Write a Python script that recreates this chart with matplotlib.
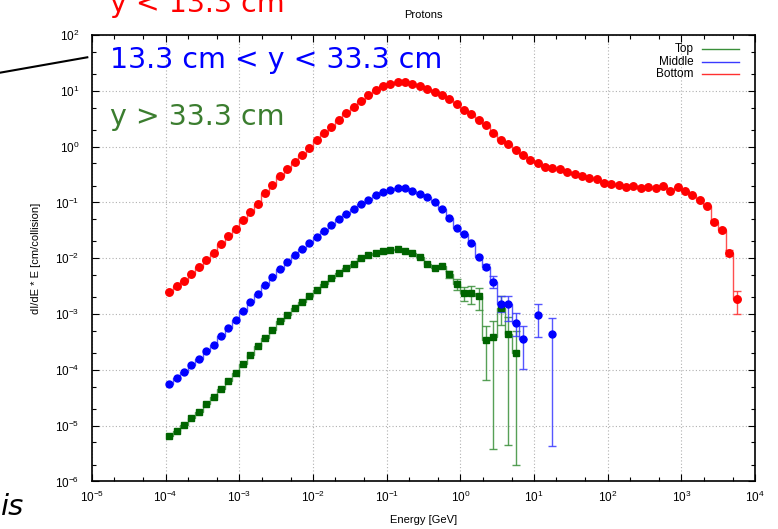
import numpy as np
import matplotlib.pyplot as plt
from matplotlib.lines import Line2D
from matplotlib.ticker import LogLocator, NullFormatter

plt.rcParams['font.family'] = ['Liberation Sans', 'DejaVu Sans']
plt.rcParams['mathtext.fontset'] = 'custom'
plt.rcParams['mathtext.rm'] = 'Liberation Sans'
plt.rcParams['mathtext.it'] = 'Liberation Sans:italic'
plt.rcParams['mathtext.bf'] = 'Liberation Sans:bold'

# 10 log bins per decade, first edge at 1e-4 GeV
bin_edges = np.logspace(-4, 3.8, 79)
bin_centres = np.sqrt(bin_edges[:-1] * bin_edges[1:])

# dI/dE * E per bin [cm/collision]; nan = empty bin
bottom_vals = [
    2.45e-3, 3.24e-3, 3.98e-3, 5.13e-3, 6.92e-3, 9.12e-3, 1.26e-2, 1.78e-2,
    2.45e-2, 3.39e-2, 4.90e-2, 6.76e-2, 9.55e-2, 0.148, 0.209, 0.295,
    0.398, 0.537, 0.708, 0.955, 1.29, 1.74, 2.29, 3.02,
    3.98, 5.13, 6.61, 8.32, 10.2, 12.3, 13.5, 14.1,
    14.1, 13.2, 12.0, 10.7, 9.55, 8.32, 7.24, 5.89,
    4.57, 3.80, 3.02, 2.40, 1.78, 1.32, 1.12, 0.871,
    0.708, 0.575, 0.513, 0.437, 0.407, 0.389, 0.347, 0.324,
    0.295, 0.269, 0.263, 0.219, 0.214, 0.204, 0.186, 0.195,
    0.182, 0.191, 0.182, 0.195, 0.158, 0.186, 0.158, 0.135,
    0.110, 0.0871, 0.0452, 0.0316, 0.0123, 0.00182,
]
middle_vals = [
    5.62e-5, 7.00e-5, 9.12e-5, 1.20e-4, 1.58e-4, 2.14e-4, 2.82e-4, 3.98e-4,
    5.50e-4, 7.94e-4, 1.12e-3, 1.66e-3, 2.29e-3, 3.31e-3, 4.68e-3, 6.31e-3,
    8.51e-3, 1.12e-2, 1.46e-2, 1.86e-2, 2.40e-2, 3.09e-2, 3.98e-2, 5.01e-2,
    6.31e-2, 7.76e-2, 9.55e-2, 0.112, 0.133, 0.153, 0.168, 0.178,
    0.178, 0.158, 0.141, 0.123, 0.100, 0.0759, 0.0525, 0.0351,
    0.0275, 0.0191, 0.0106, 7.08e-3, 3.80e-3, 1.48e-3, 1.48e-3, 6.92e-4,
    3.63e-4, np.nan, 9.55e-4, np.nan, 4.31e-4,
]
top_vals = [
    6.46e-6, 7.94e-6, 1.02e-5, 1.35e-5, 1.78e-5, 2.45e-5, 3.31e-5, 4.47e-5,
    6.31e-5, 8.91e-5, 1.29e-4, 1.82e-4, 2.63e-4, 3.72e-4, 5.25e-4, 7.41e-4,
    9.77e-4, 1.27e-3, 1.64e-3, 2.11e-3, 2.69e-3, 3.47e-3, 4.37e-3, 5.37e-3,
    6.76e-3, 7.94e-3, 1.00e-2, 1.12e-2, 1.26e-2, 1.35e-2, 1.41e-2, 1.48e-2,
    1.33e-2, 1.23e-2, 1.05e-2, 7.94e-3, 6.76e-3, 7.33e-3, 5.13e-3, 3.43e-3,
    2.37e-3, 2.34e-3, 2.09e-3, 3.47e-4, 3.80e-4, 1.29e-3, 4.37e-4, 2.00e-4,
]

# error bar ranges (bin index, lower, upper) where they are visible
bottom_err_bins = [74, 75, 76, 77]
bottom_err_lo = [0.0422, 0.0295, 0.0110, 1.00e-3]
bottom_err_hi = [0.0484, 0.0339, 0.0138, 2.63e-3]

middle_err_bins = [43, 44, 45, 46, 47, 48, 50, 52]
middle_err_lo = [6.3e-3, 2.95e-3, 1.10e-3, 7.6e-4, 4.0e-4, 1.02e-4, 3.8e-4, 4.3e-6]
middle_err_hi = [7.9e-3, 4.8e-3, 2.09e-3, 2.09e-3, 1.05e-3, 6.0e-4, 1.51e-3, 8.5e-4]

top_err_bins = [38, 39, 40, 41, 42, 43, 44, 45, 46, 47]
top_err_lo = [4.5e-3, 2.69e-3, 1.70e-3, 1.48e-3, 1.20e-3, 6.6e-5, 3.8e-6, 6.3e-4, 4.4e-6, 2.0e-6]
top_err_hi = [5.8e-3, 4.27e-3, 3.00e-3, 3.20e-3, 2.95e-3, 6.0e-4, 7.4e-4, 2.1e-3, 8.9e-4, 5.0e-4]

series = [
    ('Top', top_vals, top_err_bins, top_err_lo, top_err_hi,
     '#006400', '#3a8f3a', 's', 5.0),
    ('Middle', middle_vals, middle_err_bins, middle_err_lo, middle_err_hi,
     '#0000ff', '#3a3aff', 'o', 5.0),
    ('Bottom', bottom_vals, bottom_err_bins, bottom_err_lo, bottom_err_hi,
     '#ff0000', '#ff3030', 'o', 5.4),
]

fig = plt.figure(figsize=(7.78, 5.29), dpi=100)
ax = fig.add_axes([92 / 778, 47.6 / 529, 663 / 778, 446.4 / 529])

for name, vals, eb, elo, ehi, mcol, lcol, mk, ms in series:
    vals = np.array(vals, dtype=float)
    n = len(vals)
    x = bin_centres[:n]
    # histogram steps up to the first empty bin
    run = n if not np.isnan(vals).any() else int(np.argmax(np.isnan(vals)))
    ax.stairs(vals[:run], bin_edges[:run + 1], baseline=None,
              color=lcol, lw=1.0, alpha=0.85, zorder=2)
    ev = vals[eb]
    yerr = [ev - np.array(elo), np.array(ehi) - ev]
    ax.errorbar(bin_centres[eb], ev, yerr=yerr, fmt='none', ecolor=lcol,
                elinewidth=1.0, capsize=3, capthick=1.0, alpha=0.85, zorder=2)
    ax.plot(x, vals, mk, color=mcol, ms=ms, mec=mcol, zorder=3)

ax.set_xscale('log')
ax.set_yscale('log')
ax.set_xlim(1e-5, 1e4)
ax.set_ylim(1e-6, 1e2)

for axis in (ax.xaxis, ax.yaxis):
    axis.set_major_locator(LogLocator(base=10, numticks=20))
    axis.set_minor_locator(LogLocator(base=10, subs=(2.0, 5.0), numticks=20))
    axis.set_minor_formatter(NullFormatter())

ax.tick_params(which='both', direction='in', top=True, right=True,
               labelsize=8.5, colors='black')
ax.tick_params(which='major', length=5, width=0.8)
ax.tick_params(which='minor', length=3, width=0.8)
ax.tick_params(axis='x', pad=6)
ax.tick_params(axis='y', pad=9)
for sp in ax.spines.values():
    sp.set_linewidth(1.2)

ax.grid(which='major', ls=(0, (1, 2)), color='#b0b0b0', lw=0.8, zorder=0)
ax.set_axisbelow(True)

ax.set_title('Protons', fontsize=8, pad=12)
ax.set_xlabel('Energy [GeV]', fontsize=8, labelpad=7)
ax.set_ylabel('dI/dE * E [cm/collision]', fontsize=8, labelpad=10)

# legend: right-aligned names with line samples
leg_rows = [('Top', '#3a8f3a'), ('Middle', '#3a3aff'), ('Bottom', '#ff3030')]
for k, (name, col) in enumerate(leg_rows):
    yk = 0.968 - k * 0.0275
    ax.text(0.907, yk, name, transform=ax.transAxes, ha='right', va='center',
            fontsize=8.5)
    ax.add_line(Line2D([0.920, 0.976], [yk, yk], transform=ax.transAxes,
                       color=col, lw=1.0))

# region annotations laid over the plot
big = dict(family='DejaVu Sans', fontsize=20.5)
fig.text(110 / 778, 1 - 12 / 529, 'y < 13.3 cm', color='#ff0000',
         va='baseline', **big)
fig.text(110 / 778, 1 - 68 / 529, '13.3 cm < y < 33.3 cm', color='#0000ff',
         va='baseline', **big)
fig.text(110 / 778, 1 - 125 / 529, 'y > 33.3 cm', color='#3b7d2f',
         va='baseline', **big)
fig.add_artist(Line2D([0, 87.3 / 778], [1 - 72.7 / 529, 1 - 57.3 / 529],
                      transform=fig.transFigure, color='black', lw=1.5))
fig.text(1 / 778, 14 / 529, 'is', family='DejaVu Sans', style='italic',
         fontsize=21, ha='left', va='baseline', color='black')

fig.savefig('out.png', dpi=100)
